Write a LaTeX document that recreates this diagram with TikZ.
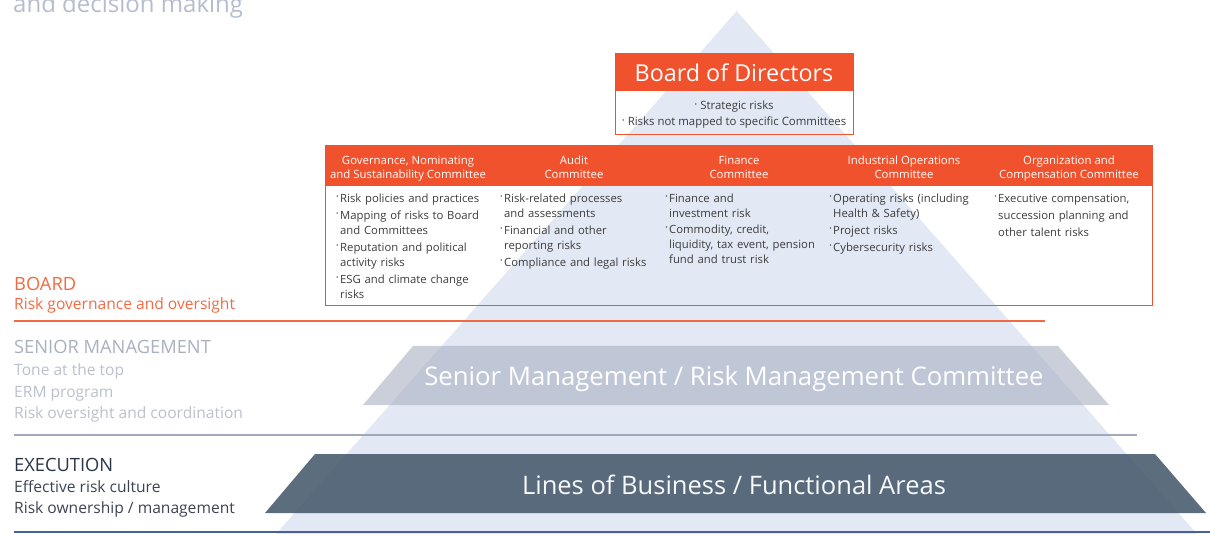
\documentclass[tikz,border=0pt]{standalone}
\usepackage{fontspec}
\setmainfont{Open Sans}
\definecolor{orng}{HTML}{F0522D}
\definecolor{orngtxt}{HTML}{F26A43}
\definecolor{tri}{HTML}{E2E8F4}
\definecolor{seniorfill}{HTML}{ABB2C4}
\definecolor{execfill}{HTML}{4A5D70}
\definecolor{bodytxt}{HTML}{3C3C3C}
\definecolor{smhead}{HTML}{A9B0C0}
\definecolor{smitem}{HTML}{BAC0CD}
\definecolor{exhead}{HTML}{2A3547}
\definecolor{exitem}{HTML}{3D4350}
\definecolor{grayline}{HTML}{A0A8BC}
\definecolor{blueline}{HTML}{4A5FA0}
\definecolor{toptxt}{HTML}{B4BDCF}
\newcommand\itm[1]{\par\noindent\strut\llap{\raisebox{1.5pt}{·}\hspace{1.2pt}}#1}
\begin{document}
\begin{tikzpicture}[x=1pt,y=-1pt,
  hdr/.style={fill=orng,draw=orng,line width=1pt},
  bodybox/.style={draw=orng,line width=1pt},
  hdrtxt/.style={text=white,font=\fontsize{11.4}{14}\selectfont,align=center,inner sep=0pt,anchor=base},
  coltxt/.style={text=bodytxt,font=\fontsize{11.3}{15}\selectfont,text width=170pt,align=left,inner sep=0pt,anchor=north west},
  lbl/.style={inner sep=0pt,anchor=base west},
  caps/.style={lbl,font=\fontsize{18.3}{20}\selectfont},
  sub/.style={lbl,font=\fontsize{15.6}{18}\selectfont},
  pyrtxt/.style={text=white,inner sep=0pt,anchor=base}]
\useasboundingbox (0,0) rectangle (1210,534);
\clip (0,0) rectangle (1210,534);
% top cut text
\node[lbl,text=toptxt,font=\fontsize{24}{26}\selectfont] (toptext) at (13,13) {and decision making};
% pyramid
\fill[tri] (736.7,11) -- (1197,534) -- (276,534) -- cycle;
% senior management trapezoid
\fill[seniorfill,opacity=0.62] (413,346) -- (1058,346) -- (1109,405) -- (363,405) -- cycle;
\node[pyrtxt,font=\fontsize{25.7}{28}\selectfont] (smtxt) at (734,386) {Senior Management / Risk Management Committee};
% execution trapezoid
\fill[execfill,opacity=0.9] (315,454) -- (1155,454) -- (1206,513) -- (265,513) -- cycle;
\node[pyrtxt,font=\fontsize{25.5}{28}\selectfont,text=white!95!gray] (extxt) at (734,494) {Lines of Business / Functional Areas};
% lines
\draw[orngtxt,line width=2pt] (14,321) -- (1045,321);
\draw[grayline,line width=2pt] (14,435) -- (1137,435);
\draw[blueline,line width=2.5pt] (14,532) -- (1210,532);
% left labels
\node[caps,text=orngtxt] (board) at (14,291) {BOARD};
\node[sub,text=orngtxt] (boardsub) at (14,310) {Risk governance and oversight};
\node[caps,text=smhead] (sm) at (14,354) {SENIOR MANAGEMENT};
\node[sub,text=smitem] (sm1) at (14,376) {Tone at the top};
\node[sub,text=smitem] (sm2) at (14,397) {ERM program};
\node[sub,text=smitem] (sm3) at (14,418) {Risk oversight and coordination};
\node[caps,text=exhead] (ex) at (14,471) {EXECUTION};
\node[sub,text=exitem] (ex1) at (14,492) {Effective risk culture};
\node[sub,text=exitem] (ex2) at (14,513) {Risk ownership / management};
% Board of Directors
\fill[hdr] (615,54) rectangle (853,91);
\draw[bodybox] (615,91) rectangle (853,135);
\node[pyrtxt,font=\fontsize{23.3}{28}\selectfont] (bod) at (734,82) {Board of Directors};
\node[inner sep=0pt,anchor=base,text=bodytxt,font=\fontsize{11.4}{14}\selectfont] (bod1) at (734,110) {\raisebox{1.5pt}{·} Strategic risks};
\node[inner sep=0pt,anchor=base,text=bodytxt,font=\fontsize{11.4}{14}\selectfont] (bod2) at (734,126) {\raisebox{1.5pt}{·} Risks not mapped to specific Committees};
% Committees table
\fill[hdr] (325,145.5) rectangle (1152,186);
\draw[bodybox] (325,186) rectangle (1152,306);
\node[hdrtxt] (h1) at (408,179) {Governance, Nominating\\and Sustainability Committee};
\node[hdrtxt] (h2) at (574,179) {Audit\\Committee};
\node[hdrtxt] (h3) at (739,179) {Finance\\Committee};
\node[hdrtxt] (h4) at (904,179) {Industrial Operations\\Committee};
\node[hdrtxt] (h5) at (1069,179) {Organization and\\Compensation Committee};
\node[coltxt] (c1) at (340,187) {%
\itm{Risk policies and practices}\par\vspace{2pt}
\itm{Mapping of risks to Board\newline and Committees}\par\vspace{2pt}
\itm{Reputation and political\newline activity risks}\par\vspace{2pt}
\itm{ESG and climate change\newline risks}};
\node[coltxt] (c2) at (504,187) {%
\itm{Risk-related processes\newline and assessments}\par\vspace{2pt}
\itm{Financial and other\newline reporting risks}\par\vspace{2pt}
\itm{Compliance and legal risks}};
\node[coltxt] (c3) at (669,187) {%
\itm{Finance and\newline investment risk}\par\vspace{1pt}
\itm{Commodity, credit,\newline liquidity, tax event, pension\newline fund and trust risk}};
\node[coltxt] (c4) at (833,187) {%
\itm{Operating risks (including\newline Health \& Safety)}\par\vspace{2pt}
\itm{Project risks}\par\vspace{2pt}
\itm{Cybersecurity risks}};
\node[coltxt,font=\fontsize{11.3}{17}\selectfont] (c5) at (998,185) {%
\itm{Executive compensation,\newline succession planning and\newline other talent risks}};
\end{tikzpicture}
\end{document}
